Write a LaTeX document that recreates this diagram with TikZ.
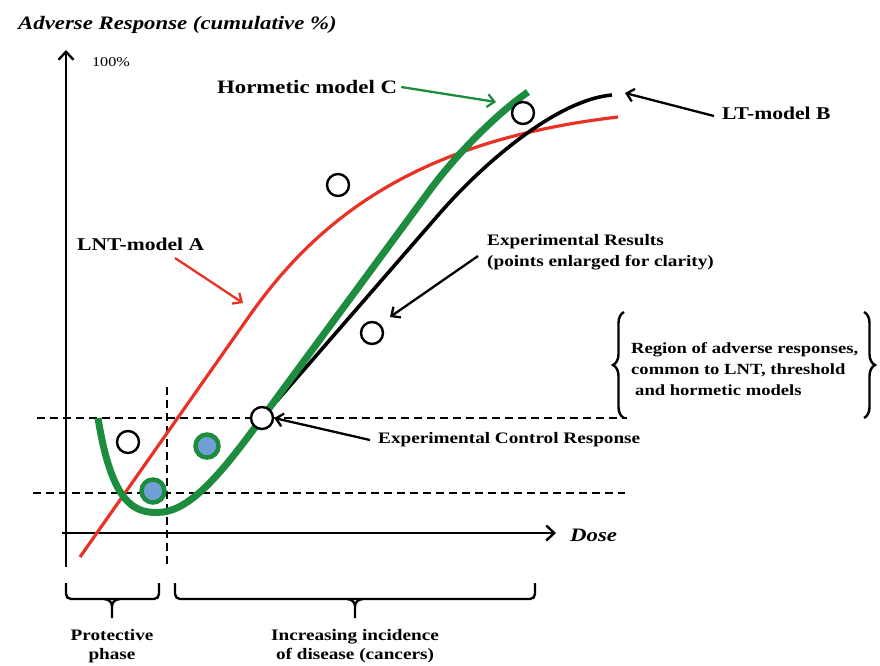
\documentclass[tikz,border=0pt]{standalone}
\usepackage{fontspec}
\setmainfont[FakeStretch=1.2]{Liberation Serif}
\usetikzlibrary{arrows.meta,decorations.pathreplacing}
\definecolor{lntred}{RGB}{233,50,38}
\definecolor{hormgreen}{RGB}{30,140,62}
\definecolor{ptblue}{RGB}{112,160,214}
\begin{document}
\begin{tikzpicture}[x=1pt,y=-1pt,
  axisline/.style={line width=2.4pt,-{Straight Barb[length=8pt,width=15pt]}},
  guide/.style={line width=2.3pt,dash pattern=on 8pt off 5pt},
  lab/.style={font=\fontsize{18}{21}\selectfont\bfseries,inner sep=0pt},
  smalllab/.style={font=\fontsize{16}{21}\selectfont\bfseries,inner sep=0pt},
  ptr/.style={line width=2.3pt,-{Straight Barb[length=7pt,width=13pt]}},
  opendot/.style={circle,draw=black,line width=2.4pt,fill=white,minimum size=22pt,inner sep=0pt},
  bluedot/.style={circle,draw=hormgreen,line width=4.5pt,fill=ptblue,minimum size=23pt,inner sep=0pt},
  brk/.style={line width=2.4pt,rounded corners=5pt},
  curlybrace/.style={line width=2.4pt,decorate,decoration={brace,amplitude=11pt}}
]
\useasboundingbox (0,0) rectangle (880,665);

% axes
\coordinate (ybot) at (66,567);
\coordinate (ytop) at (66,50);
\coordinate (xleft) at (62,533);
\coordinate (xright) at (556,533);
\draw[axisline] (ybot) -- (ytop);
\draw[axisline] (xleft) -- (xright);

% dashed guides
\coordinate (up1) at (37,418);
\coordinate (up2) at (627,418);
\coordinate (lo1) at (33,493);
\coordinate (lo2) at (625,493);
\coordinate (ve1) at (167,387);
\coordinate (ve2) at (167,567);
\draw[guide] (up1) -- (up2);
\draw[guide] (lo1) -- (lo2);
\draw[guide] (ve1) -- (ve2);

% curves
\draw[lntred,line width=3.2pt] (80,557) -- (250,315) .. controls (320,216) and (420,140) .. (618,117);
\draw[black,line width=3.6pt] (262,418) -- (440,213) .. controls (480,167) and (555,100) .. (612,95);
\draw[hormgreen,line width=7pt] (98,418) .. controls (112,505) and (135,515) .. (163,512)
   .. controls (195,508) and (228,464) .. (262,418) -- (430,190)
   .. controls (455,156) and (495,115) .. (528,92);

% data points
\node[opendot] (p1) at (128,442) {};
\node[opendot] (p2) at (338,185) {};
\node[opendot] (p3) at (372,333) {};
\node[opendot] (p4) at (523,113) {};
\node[opendot] (ctrl) at (262,418) {};
\node[bluedot] (b1) at (153,491) {};
\node[bluedot] (b2) at (207,446) {};

% titles
\node[font=\fontsize{19}{22}\selectfont\bfseries\itshape,inner sep=0pt,anchor=west] (ytitle) at (18,25) {Adverse Response (cumulative \%)};
\node[font=\fontsize{13.5}{16}\selectfont,inner sep=0pt] (hundred) at (111,62) {100\%};
\node[font=\fontsize{19}{22}\selectfont\bfseries\itshape,inner sep=0pt,anchor=west] (dose) at (570,535) {Dose};

% model labels
\node[lab,font=\fontsize{19}{22}\selectfont\bfseries,anchor=west] (hlab) at (217,87) {Hormetic model C};
\coordinate (htip) at (496,102);
\draw[ptr,hormgreen] ([xshift=4pt]hlab.east) -- (htip);

\node[lab,anchor=west] (ltlab) at (722,113) {LT-model B};
\coordinate (lttip) at (625,93);
\draw[ptr] ([xshift=-8pt,yshift=-3pt]ltlab.west) -- (lttip);

\node[lab,anchor=west] (lntlab) at (77,244) {LNT-model A};
\coordinate (lnts) at (175,258);
\coordinate (lnttip) at (243,303);
\draw[ptr,lntred] (lnts) -- (lnttip);

\node[smalllab,anchor=west,align=left] (exres) at (487,252) {Experimental Results\\(points enlarged for clarity)};
\coordinate (exs) at (478,256);
\coordinate (extip) at (390,317);
\draw[ptr] (exs) -- (extip);

\node[smalllab,anchor=west] (ctrllab) at (378,440) {Experimental Control Response};
\draw[ptr] ([xshift=-8pt]ctrllab.west) -- (ctrl.east);

% region brace
\coordinate (lbb) at (624,418);
\coordinate (lbt) at (624,312);
\coordinate (rbt) at (864,312);
\coordinate (rbb) at (864,418);
\draw[curlybrace] (lbb) -- (lbt);
\draw[curlybrace] (rbt) -- (rbb);
\node[font=\fontsize{15.5}{21}\selectfont\bfseries,inner sep=0pt,anchor=west,align=left] (region) at (631,369)
  {Region of adverse responses,\\common to LNT, threshold\\\hspace*{4pt}and hormetic models};

% bottom brackets
\draw[brk] (66,583) -- (66,599) -- (159,599) -- (159,583);
\draw[line width=2.4pt] (104,599) to[out=0,in=90] (112,606) -- (112,618);
\draw[line width=2.4pt] (120,599) to[out=180,in=90] (112,606);
\draw[brk] (175,583) -- (175,599) -- (535,599) -- (535,583);
\draw[line width=2.4pt] (347,599) to[out=0,in=90] (355,606) -- (355,618);
\draw[line width=2.4pt] (363,599) to[out=180,in=90] (355,606);

\node[smalllab,font=\fontsize{16}{19}\selectfont\bfseries,align=center] (prot) at (112,646) {Protective\\phase};
\node[smalllab,font=\fontsize{16}{19}\selectfont\bfseries,align=center] (incr) at (355,646) {Increasing incidence\\of disease (cancers)};
\end{tikzpicture}
\end{document}
